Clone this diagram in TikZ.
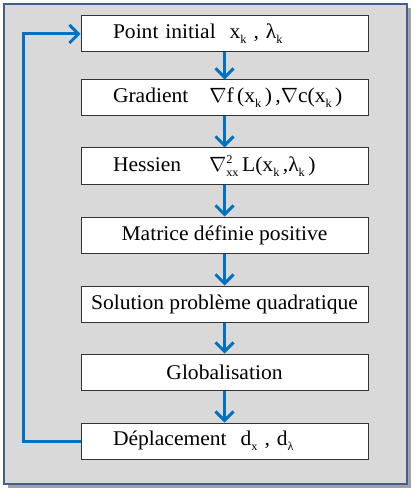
\documentclass[tikz,border=0pt]{standalone}
\usepackage{fontspec}
\setmainfont{Liberation Serif}[FakeStretch=1.03]
\usetikzlibrary{arrows.meta,shadows}
\definecolor{bleu}{RGB}{0,112,192}
\definecolor{fond}{RGB}{217,217,217}
\definecolor{cadre}{RGB}{65,95,140}
\newcommand{\ind}[1]{\raisebox{-5bp}{\fontsize{12}{12}\selectfont #1}}
\newcommand{\expo}[1]{\raisebox{8bp}{\fontsize{12}{12}\selectfont #1}}

\begin{document}
\begin{tikzpicture}[x=1bp,y=-1bp,
  boite/.style={draw=black!80, fill=white, line width=1bp, minimum width=287bp, minimum height=36bp, inner sep=0pt, font=\fontsize{21}{24}\selectfont},
  gauche/.style={boite, text width=223bp, inner xsep=32bp, align=left},
  fleche/.style={draw=bleu, line width=3bp, -{Straight Barb[length=9bp,width=18bp]}}]
  \useasboundingbox (0,0) rectangle (418,497);
  \draw[draw=cadre, line width=2bp, fill=fond, drop shadow={shadow xshift=4bp, shadow yshift=-4bp, fill=black!60, opacity=0.6}] (4,4) rectangle (407,484);
  \node[gauche] (a) at (224.5,34)  {\mbox{Point initial \ x\ind{k} , λ\ind{k}}};
  \node[gauche] (b) at (224.5,98)  {\mbox{Gradient \ \ $\nabla$f\,(x\ind{k}\,)\,,$\nabla$c(x\ind{k}\,)}};
  \node[gauche] (c) at (224.5,166) {\mbox{Hessien \quad $\nabla$\rlap{\expo{2}}\ind{xx}\,L(x\ind{k}\,,λ\ind{k}\,)}};
  \node[boite] (d) at (224.5,235) {Matrice définie positive};
  \node[boite] (e) at (224.5,304) {Solution problème quadratique};
  \node[boite] (f) at (224.5,372) {Globalisation};
  \node[gauche] (g) at (224.5,441) {\mbox{Déplacement \ d\ind{x} , d\ind{λ}}};
  \draw[fleche] (a) -- (b);
  \draw[fleche] (b) -- (c);
  \draw[fleche] (c) -- (d);
  \draw[fleche] (d) -- (e);
  \draw[fleche] (e) -- (f);
  \draw[fleche] (f) -- (g);
  \draw[fleche] (g.west) -- ++(-57,0) |- (a.west);
\end{tikzpicture}
\end{document}
